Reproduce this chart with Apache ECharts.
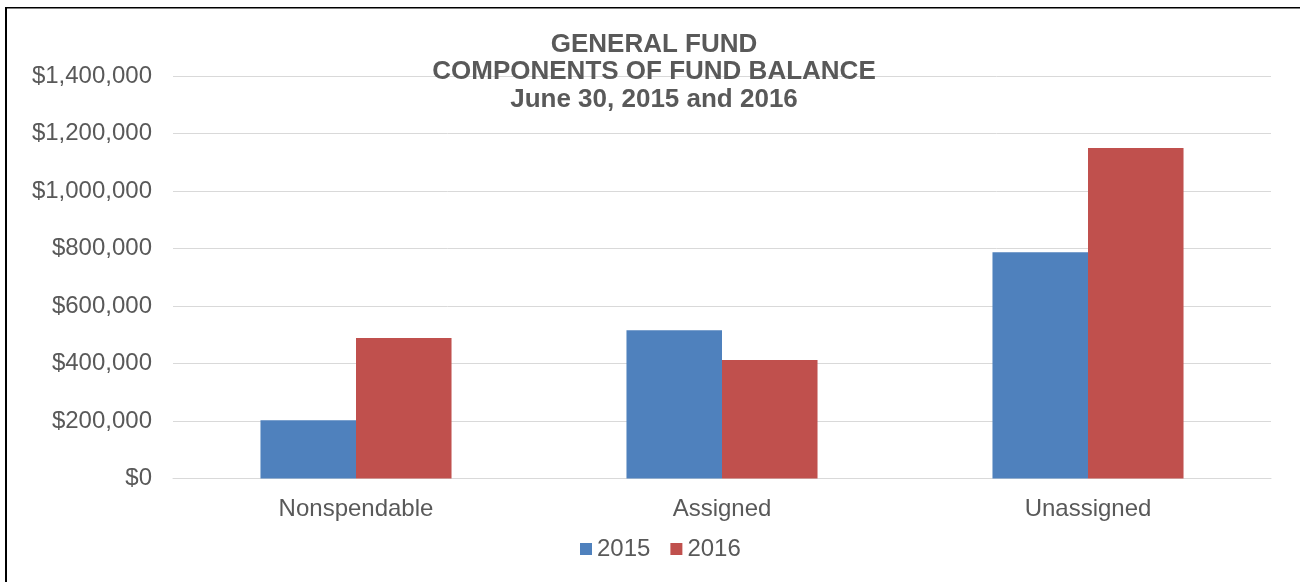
<!DOCTYPE html>
<html>
<head>
<meta charset="utf-8">
<script src="https://cdn.jsdelivr.net/npm/echarts@6/dist/echarts.min.js"></script>
<style>
  html, body { margin: 0; padding: 0; background: #fff; }
  #chart { width: 1300px; height: 582px; }
</style>
</head>
<body>
<div id="chart"></div>
<script>
// data
const categories = ['Nonspendable', 'Assigned', 'Unassigned'];
const values2015 = [203000, 516000, 787000];
const values2016 = [489000, 412000, 1150000];
const yTicks = [0, 200000, 400000, 600000, 800000, 1000000, 1200000, 1400000];

const textColor = '#595959';
const font = 'Arial, "Liberation Sans", sans-serif';

let chart = echarts.init(document.getElementById('chart'));

function money(v) {
  return '$' + v.toLocaleString('en-US');
}

chart.setOption({
  animation: false,
  backgroundColor: '#ffffff',
  title: {
    text: 'GENERAL FUND\nCOMPONENTS OF FUND BALANCE\nJune 30, 2015 and 2016',
    left: 654,
    textAlign: 'center',
    top: 31,
    padding: 0,
    textStyle: {
      color: textColor,
      fontFamily: font,
      fontWeight: 'bold',
      fontSize: 26,
      lineHeight: 27.5
    }
  },
  legend: {
    left: 580,
    top: 537,
    padding: 0,
    itemWidth: 12,
    itemHeight: 12,
    itemGap: 20,
    icon: 'rect',
    textStyle: { color: textColor, fontFamily: font, fontSize: 24 },
    data: ['2015', '2016']
  },
  grid: {
    left: 173,
    right: 29,
    top: 76,
    bottom: 103.5,
    containLabel: false
  },
  xAxis: {
    type: 'category',
    data: categories,
    axisLine: { show: true, lineStyle: { color: '#d9d9d9', width: 1 } },
    axisTick: { show: false },
    axisLabel: { color: textColor, fontFamily: font, fontSize: 24, margin: 19 }
  },
  yAxis: {
    type: 'value',
    min: yTicks[0],
    max: yTicks[yTicks.length - 1],
    interval: yTicks[1] - yTicks[0],
    axisLine: { show: false },
    axisTick: { show: false },
    splitLine: { lineStyle: { color: '#d9d9d9', width: 1 } },
    axisLabel: {
      color: textColor,
      fontFamily: font,
      fontSize: 24,
      margin: 21,
      formatter: money
    }
  },
  series: [
    {
      name: '2015',
      type: 'bar',
      data: values2015,
      barGap: '0%',
      barCategoryGap: '47.8%',
      itemStyle: { color: '#4f81bd' }
    },
    {
      name: '2016',
      type: 'bar',
      data: values2016,
      itemStyle: { color: '#c0504d' }
    }
  ],
  graphic: [
    { type: 'rect', shape: { x: 5, y: 7, width: 2, height: 575 }, style: { fill: '#000' }, silent: true },
    { type: 'rect', shape: { x: 5, y: 7, width: 1295, height: 1.5 }, style: { fill: '#000' }, silent: true }
  ]
});

window.addEventListener('resize', function () {
  chart.resize();
});
</script>
</body>
</html>
